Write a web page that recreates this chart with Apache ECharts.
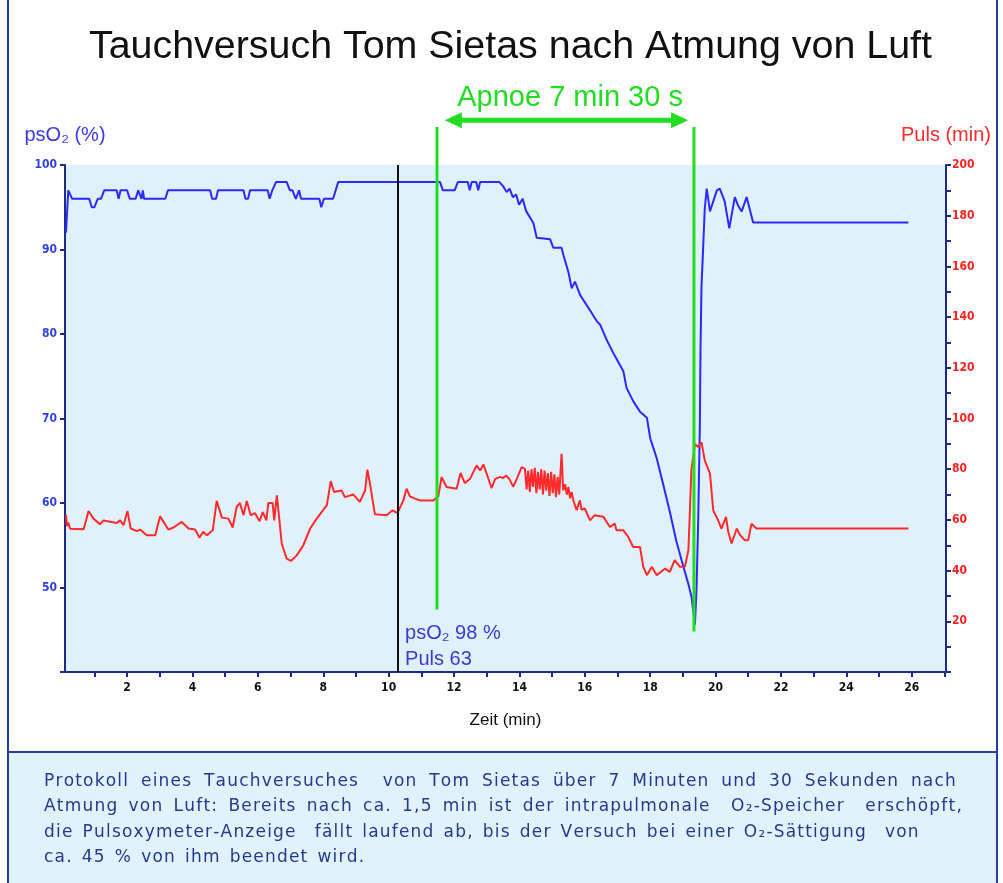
<!DOCTYPE html>
<html>
<head>
<meta charset="utf-8">
<script src="https://cdn.jsdelivr.net/npm/echarts@6/dist/echarts.min.js"></script>
<style>
html, body { margin: 0; padding: 0; background: #ffffff; }
#chart { width: 1003px; height: 883px; }
</style>
</head>
<body>
<div id="chart"></div>
<script>
// psO2 (%) - linke Achse
var spo2Time = [0.13, 0.2, 0.26, 0.32, 0.84, 0.92, 1.0, 1.1, 1.2, 1.3, 1.68, 1.74, 1.8, 2.0, 2.08, 2.26, 2.34, 2.4, 2.44, 2.48, 2.52, 3.17, 3.25, 4.54, 4.6, 4.72, 4.78, 5.56, 5.62, 5.7, 5.76, 6.3, 6.36, 6.44, 6.56, 6.88, 6.98, 7.06, 7.16, 7.26, 7.32, 7.88, 7.94, 8.02, 8.3, 8.46, 11.57, 11.66, 12.02, 12.12, 12.42, 12.48, 12.54, 12.68, 12.74, 12.8, 13.38,
  13.5, 13.61, 13.7, 13.8, 13.9, 13.99, 14.1, 14.2, 14.43, 14.53, 14.94, 15.04, 15.29, 15.35, 15.5, 15.6, 15.7, 15.86, 16.06, 16.16, 16.37, 16.47, 16.67, 16.88, 17.08, 17.18, 17.28, 17.49, 17.69, 17.9, 18.0, 18.1, 18.2, 18.4, 18.6, 18.8, 19.0, 19.17, 19.27, 19.37,
  19.42, 19.47, 19.52, 19.54, 19.57, 19.62, 19.67, 19.73, 19.83, 19.93, 20.04, 20.13, 20.28, 20.42, 20.59, 20.69, 20.8, 20.95, 21.15, 25.9];
var spo2Value = [92, 97, 97, 96, 96, 95, 95, 96, 96, 97, 97, 96, 97, 97, 96, 96, 97, 97, 96, 97, 96, 96, 97, 97, 96, 96, 97, 97, 96, 96, 97, 97, 96, 97, 98, 98, 97, 97, 96, 97, 96, 96, 95, 96, 96, 98, 98, 97, 97, 98, 98, 97, 98, 98, 97, 98, 98,
  97.5, 96.8, 97.2, 96.2, 96.5, 95.3, 96, 94.6, 93.1, 91.4, 91.2, 90.2, 90.2, 89.3, 87.3, 85.4, 86.2, 84.6, 83.4, 82.8, 81.5, 81.1, 79.3, 77.7, 76.3, 75.6, 73.6, 72.0, 70.8, 70.1, 67.7, 66.5, 65.3, 62.2, 59.0, 55.5, 52.7, 50.4, 48.8, 45.6,
  50, 58.0, 69.1, 78.1, 85.6, 90.1, 94.8, 97.2, 94.5, 95.7, 97, 97.2, 95.7, 92.5, 96.2, 95.2, 94.5, 96.2, 93.2, 93.2];

// Puls (1/min) - rechte Achse
var pulseTime = [0.13, 0.16, 0.2, 0.26, 0.67, 0.82, 0.97, 1.17, 1.28, 1.68, 1.79, 1.89, 2.01, 2.11, 2.3, 2.4, 2.6, 2.86, 3.01, 3.26, 3.42, 3.67, 3.88, 4.08, 4.21, 4.33, 4.44, 4.62, 4.74, 4.9, 5.1, 5.23, 5.35, 5.45, 5.56, 5.66, 5.78, 5.91, 6.05, 6.15, 6.26, 6.32, 6.45, 6.5, 6.58, 6.66, 6.73, 6.88, 7.01, 7.19, 7.39, 7.6, 7.8, 8.11, 8.23, 8.33, 8.56, 8.66, 8.92, 9.12, 9.28, 9.35, 9.43, 9.58, 9.94, 10.12, 10.27, 10.45, 10.55, 10.65, 10.81, 10.96, 11.37, 11.52, 11.62, 11.77, 12.08, 12.2, 12.33, 12.49, 12.69, 12.8, 12.9, 13.0, 13.15, 13.26, 13.41, 13.5, 13.6, 13.7, 13.81, 13.92, 14.07, 14.17,
  14.22, 14.27, 14.32, 14.37, 14.42, 14.47, 14.52, 14.57, 14.62, 14.67, 14.72, 14.77, 14.82, 14.87, 14.92, 14.97, 15.02, 15.07, 15.12, 15.17, 15.22, 15.29, 15.34, 15.4, 15.45, 15.5, 15.55, 15.6, 15.65, 15.75, 15.85, 15.9, 16.0, 16.16, 16.3, 16.57, 16.77, 16.92, 16.97, 17.18, 17.33, 17.48, 17.69, 17.79, 17.9, 18.05, 18.2, 18.46, 18.6, 18.75, 18.91, 19.06, 19.17, 19.21, 19.26, 19.37, 19.47, 19.57, 19.67, 19.83, 19.93, 20.08, 20.18, 20.32, 20.39, 20.49, 20.65, 20.75, 20.9, 21.0, 21.1, 21.25, 25.9];
var pulseValue = [62, 57.5, 59, 56.5, 56.3, 63.5, 60.5, 58.3, 59.8, 58.8, 59.8, 57.9, 63.5, 56.6, 55.6, 56.2, 53.9, 53.9, 61.4, 56.2, 57, 59.2, 56.6, 56.2, 53.0, 55.3, 53.9, 55.9, 67.5, 60.9, 60.5, 57, 65.1, 66.7, 61.8, 67.5, 61.8, 62.7, 59.5, 63.1, 59.8, 66.7, 66.7, 59.8, 69.7, 59.8, 50.6, 44.7, 43.8, 46.0, 50.0, 56.6, 60.5, 65.8, 75.3, 71.0, 71.6, 69.0, 70.0, 67.1, 71.6, 79.8, 74.3, 62.2, 61.8, 63.8, 62.7, 67.7, 72.3, 69.3, 68.4, 67.7, 67.7, 69.3, 76.9, 73.0, 72.3, 78.5, 74.5, 76.2, 81.5, 79.5, 81.9, 78.2, 72.5, 76.2, 77, 76.5, 77.5, 76, 73, 76.2, 80.8, 80.1,
  72, 79.5, 71, 80, 73, 80.5, 70.5, 79, 72, 80, 70, 79.5, 71.5, 78.5, 69.5, 79, 70.5, 78, 69, 77, 70, 86.1, 71.6, 74, 70, 73, 68.5, 71, 67.7, 63.8, 67.7, 64, 64.5, 59.8, 61.8, 61.2, 57.2, 58.5, 55.9, 55.9, 53.3, 49.3, 49.3, 41.5, 38.2, 41.5, 38.2, 40.8, 39.5, 44.1, 41.5, 41.5, 48.0, 61.2, 79.5, 90.0, 88.7, 90.7, 83.5, 78.3, 63.8, 59.8, 56.6, 61.2, 55.2, 50.7, 56.6, 54.0, 52.0, 52.0, 58.5, 56.6, 56.6];

var xLabelValues = [2, 4, 6, 8, 10, 12, 14, 16, 18, 20, 22, 24, 26];
var xTickValues = [1, 2, 3, 4, 5, 6, 7, 8, 9, 10, 11, 12, 13, 14, 15, 16, 17, 18, 19, 20, 21, 22, 23, 24, 25, 26, 27];

var markerTime = 10.29;        // schwarze Linie (psO2 98 %, Puls 63)
var apnoeStart = 11.48;        // gruene Linien
var apnoeEnd = 19.34;
var arrowFrom = 11.72, arrowTo = 19.16, arrowLevel = 105.3;
var apnoeTextTime = 15.55, apnoeTextLevel = 107.9;
var greenTop = 104.5, greenBottom1 = 47.4, greenBottom2 = 44.8;

var captionLines = [
  'Protokoll eines Tauchversuches  von Tom Sietas über 7 Minuten und 30 Sekunden nach',
  'Atmung von Luft: Bereits nach ca. 1,5 min ist der intrapulmonale  O₂-Speicher  erschöpft,',
  'die Pulsoxymeter-Anzeige  fällt laufend ab, bis der Versuch bei einer O₂-Sättigung  von',
  'ca. 45 % von ihm beendet wird.'
];
var captionEnds = [957, 963, 0, 0];   // 0 = Flattersatz

function pairs(xs, ys) {
  return xs.map(function (t, i) { return [t, ys[i]]; });
}

var navy = '#1c2c8c';
var green = '#22dd22';
var labelFont = '"Liberation Sans Narrow", "DejaVu Sans Condensed", sans-serif';
var captionFont = '17px "DejaVu Sans", sans-serif';
var captionLeft = 44;
var letterGap = 1.2;

var chart = echarts.init(document.getElementById('chart'));

// Bildunterschrift: Zeichen einzeln setzen (leichte Sperrung), Zeilen 1-2 im Blocksatz
var measureCtx = document.createElement('canvas').getContext('2d');
measureCtx.font = captionFont;
function lineStats(text) {
  var L = 0, s = 0;
  text.split('').forEach(function (c) {
    if (c === ' ') s++;
    else L += measureCtx.measureText(c).width + letterGap;
  });
  return { L: L, s: s };
}
var wsList = [];
captionLines.forEach(function (text, i) {
  if (captionEnds[i]) {
    var st = lineStats(text);
    wsList[i] = (captionEnds[i] - captionLeft - st.L) / st.s;
  }
});
var wsNatural = Math.min(9, (wsList[0] + wsList[1]) / 2);

var captionGraphics = [];
captionLines.forEach(function (text, i) {
  var x = captionLeft, top = 773 + i * 25.4;
  var ws = captionEnds[i] ? wsList[i] : wsNatural;
  text.split('').forEach(function (c) {
    if (c === ' ') { x += ws; return; }
    captionGraphics.push({ type: 'text', x: x, y: top, z: 11, style: { text: c, fill: '#233a8f', font: captionFont } });
    x += measureCtx.measureText(c).width + letterGap;
  });
});

var option = {
  animation: false,
  backgroundColor: '#ffffff',
  title: {
    text: 'Tauchversuch Tom Sietas nach Atmung von Luft',
    left: 84, top: 23,
    textStyle: { fontFamily: '"Liberation Sans", Arial, sans-serif', fontSize: 39.4, fontWeight: 'normal', color: '#111111' }
  },
  grid: {
    left: 65, right: 57, top: 165, bottom: 211,
    show: true, backgroundColor: '#e1f1fc', borderWidth: 0
  },
  xAxis: {
    type: 'value', min: 0.1, max: 27.05,
    name: 'Zeit (min)', nameLocation: 'middle', nameGap: 40,
    nameTextStyle: { fontFamily: '"Liberation Sans", Arial, sans-serif', fontSize: 17, color: '#111111' },
    axisLine: { lineStyle: { color: navy, width: 2 } },
    axisTick: { customValues: xTickValues, length: 5, lineStyle: { color: navy, width: 2 } },
    axisLabel: { customValues: xLabelValues, margin: 10, color: '#111111', fontFamily: labelFont, fontWeight: 'bold', fontSize: 12 },
    splitLine: { show: false }
  },
  yAxis: [{
    type: 'value', min: 40, max: 100, interval: 10, position: 'left',
    name: 'psO₂ (%)', nameGap: 20,
    nameTextStyle: { fontFamily: '"Liberation Sans", Arial, sans-serif', fontSize: 20, color: '#3a3ae8' },
    axisLine: { show: true, lineStyle: { color: navy, width: 2 } },
    axisTick: { show: true, length: 5, lineStyle: { color: navy, width: 2 } },
    axisLabel: {
      margin: 8, color: '#3040e0', fontFamily: labelFont, fontWeight: 'bold', fontSize: 12,
      formatter: function (v) { return v > 40 ? v : ''; }
    },
    splitLine: { show: false }
  }, {
    type: 'value', min: 0, max: 200, interval: 10, position: 'right',
    name: 'Puls (min)', nameGap: 20,
    nameTextStyle: { fontFamily: '"Liberation Sans", Arial, sans-serif', fontSize: 20, color: '#ff2a2a' },
    axisLine: { show: true, lineStyle: { color: navy, width: 2 } },
    axisTick: { show: true, length: 5, lineStyle: { color: navy, width: 2 } },
    axisLabel: {
      margin: 6, color: '#ff2020', fontFamily: labelFont, fontWeight: 'bold', fontSize: 12,
      formatter: function (v) { return (v > 0 && v % 20 === 0) ? v : ''; }
    },
    splitLine: { show: false }
  }],
  series: [{
    name: 'psO2', type: 'line', yAxisIndex: 0,
    data: pairs(spo2Time, spo2Value),
    showSymbol: false,
    lineStyle: { color: '#2a2aff', width: 2 },
    itemStyle: { color: '#2a2aff' },
    markLine: {
      silent: true, symbol: 'none', animation: false,
      label: { show: false },
      lineStyle: { color: '#111111', width: 2, type: 'solid' },
      data: [{ xAxis: markerTime }]
    }
  }, {
    name: 'Puls', type: 'line', yAxisIndex: 1,
    data: pairs(pulseTime, pulseValue),
    showSymbol: false,
    lineStyle: { color: '#ff2a2a', width: 2 },
    itemStyle: { color: '#ff2a2a' }
  }]
};

chart.setOption(option);

// Apnoe-Markierung ueber die Achsen in Pixel umrechnen
function px(t, v) { return chart.convertToPixel({ xAxisIndex: 0, yAxisIndex: 0 }, [t, v]); }
var g1a = px(apnoeStart, greenTop), g1b = px(apnoeStart, greenBottom1);
var g2a = px(apnoeEnd, greenTop), g2b = px(apnoeEnd, greenBottom2);
var a1 = px(arrowFrom, arrowLevel), a2 = px(arrowTo, arrowLevel);
var textPos = px(apnoeTextTime, apnoeTextLevel);
var head = 17, half = 8;

var markGraphics = [
  { type: 'line', z: 12, shape: { x1: g1a[0], y1: g1a[1], x2: g1b[0], y2: g1b[1] }, style: { stroke: green, lineWidth: 3 } },
  { type: 'line', z: 12, shape: { x1: g2a[0], y1: g2a[1], x2: g2b[0], y2: g2b[1] }, style: { stroke: green, lineWidth: 3 } },
  { type: 'line', z: 12, shape: { x1: a1[0] + head - 2, y1: a1[1], x2: a2[0] - head + 2, y2: a2[1] }, style: { stroke: green, lineWidth: 5 } },
  { type: 'polygon', z: 12, shape: { points: [[a1[0], a1[1]], [a1[0] + head, a1[1] - half], [a1[0] + head, a1[1] + half]] }, style: { fill: green } },
  { type: 'polygon', z: 12, shape: { points: [[a2[0], a2[1]], [a2[0] - head, a2[1] - half], [a2[0] - head, a2[1] + half]] }, style: { fill: green } },
  { type: 'text', z: 12, x: textPos[0], y: textPos[1], style: { text: 'Apnoe 7 min 30 s', fill: green, font: '29px "Liberation Sans", Arial, sans-serif', align: 'center', verticalAlign: 'middle' } }
];

var mt = px(markerTime, 48);
var frameGraphics = [
  { type: 'rect', z: 10, shape: { x: 8, y: -4, width: 989, height: 894 }, style: { fill: 'none', stroke: '#23409e', lineWidth: 2 } },
  { type: 'rect', z: 9, shape: { x: 8, y: 752, width: 989, height: 140 }, style: { fill: '#e2f2fd', stroke: '#23409e', lineWidth: 2 } },
  { type: 'text', z: 11, x: mt[0] + 7, y: 633, style: { text: 'psO₂ 98 %', fill: '#3a3ad0', font: '20px "Liberation Sans", Arial, sans-serif', verticalAlign: 'middle' } },
  { type: 'text', z: 11, x: mt[0] + 7, y: 659, style: { text: 'Puls 63', fill: '#3a3ad0', font: '20px "Liberation Sans", Arial, sans-serif', verticalAlign: 'middle' } }
];

chart.setOption({ graphic: frameGraphics.concat(markGraphics, captionGraphics) });
</script>
</body>
</html>
